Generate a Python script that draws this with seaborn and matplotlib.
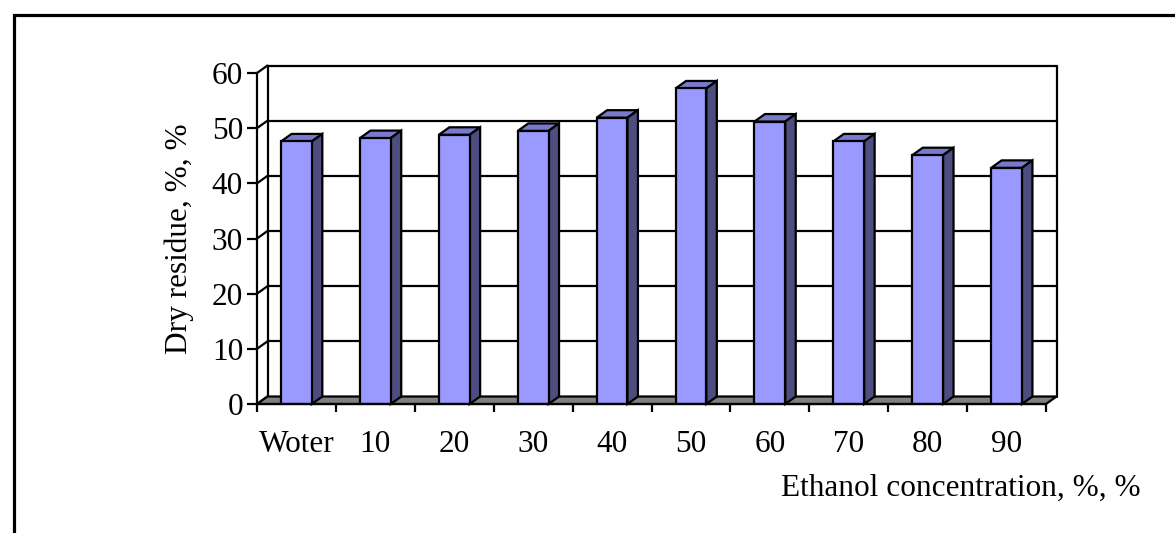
import matplotlib
matplotlib.use("Agg")
import matplotlib.pyplot as plt
from matplotlib.patches import Polygon, Rectangle
import seaborn as sns
import pandas as pd

# Dry residue yield for each extractant
categories = ["Woter", "10", "20", "30", "40", "50", "60", "70", "80", "90"]
dry_residue = [47.6, 48.2, 48.8, 49.5, 51.9, 57.2, 51.2, 47.6, 45.1, 42.8]
y_ticks = [0, 10, 20, 30, 40, 50, 60]

x_title = "Ethanol concentration, %, %"
y_title = "Dry residue, %, %"

FS = 22.5

sns.set_theme(style="white")
plt.rcParams["font.family"] = ["Liberation Serif", "DejaVu Serif"]
plt.rcParams["font.size"] = FS

W, H = 1175, 533
fig = plt.figure(figsize=(W / 100, H / 100), dpi=100)
fig.patch.set_facecolor("white")

# front plane of the pseudo-3D box (pixel geometry)
left_px, right_px, base_px, top_px = 257, 1046, 404, 73
ax = fig.add_axes([left_px / W, 1 - base_px / H,
                   (right_px - left_px) / W, (base_px - top_px) / H])

df = pd.DataFrame({"cat": categories, "val": dry_residue})
sns.barplot(data=df, x="cat", y="val", color="#9999FF", saturation=1,
            width=0.39, edgecolor="black", linewidth=1.6, ax=ax, zorder=3)

n = len(categories)
ax.set_xlim(-0.5, n - 0.5)
ax.set_ylim(0, 60)

# depth offset expressed in data units
px_per_cat = (right_px - left_px) / n
px_per_unit = (base_px - top_px) / 60
dx = 10.5 / px_per_cat
dy = 7.5 / px_per_unit

lw = 1.6
# back wall gridlines and borders
for v in y_ticks[1:]:
    ax.plot([-0.5 + dx, n - 0.5 + dx], [v + dy, v + dy], color="black",
            lw=lw, clip_on=False, zorder=1)
for xv in (-0.5 + dx, n - 0.5 + dx):
    ax.plot([xv, xv], [dy, 60 + dy], color="black", lw=lw,
            clip_on=False, zorder=1)
# side wall diagonals
for v in y_ticks:
    ax.plot([-0.5, -0.5 + dx], [v, v + dy], color="black", lw=lw,
            clip_on=False, zorder=1)

# floor
floor = Polygon([(-0.5, 0), (n - 0.5, 0), (n - 0.5 + dx, dy), (-0.5 + dx, dy)],
                closed=True, facecolor="#808080", edgecolor="black", lw=lw,
                clip_on=False, zorder=1.5)
ax.add_patch(floor)

# top and side faces of each bar
for p in list(ax.patches):
    if p is floor:
        continue
    x0, w, h = p.get_x(), p.get_width(), p.get_height()
    top = Polygon([(x0, h), (x0 + w, h), (x0 + w + dx, h + dy), (x0 + dx, h + dy)],
                  closed=True, facecolor="#7A7ACC", edgecolor="black", lw=lw,
                  clip_on=False, zorder=2.9)
    side = Polygon([(x0 + w, 0), (x0 + w + dx, dy), (x0 + w + dx, h + dy), (x0 + w, h)],
                   closed=True, facecolor="#4D4D80", edgecolor="black", lw=lw,
                   clip_on=False, zorder=2.9)
    ax.add_patch(top)
    ax.add_patch(side)

# axes styling
for s in ("top", "right"):
    ax.spines[s].set_visible(False)
for s in ("left", "bottom"):
    ax.spines[s].set_color("black")
    ax.spines[s].set_linewidth(lw)
    ax.spines[s].set_zorder(4)
ax.set_facecolor("none")
ax.grid(False)

ax.set_yticks(y_ticks)
ax.tick_params(axis="y", direction="out", length=7, width=lw, color="black",
               pad=3, labelsize=FS, labelcolor="black", left=True)
ax.set_xticks(range(n))
ax.set_xticklabels(categories)
ax.set_xticks([i - 0.5 for i in range(n + 1)], minor=True)
ax.tick_params(axis="x", which="major", length=0, pad=19, labelsize=FS,
               labelcolor="black")
ax.tick_params(axis="x", which="minor", direction="out", length=6, width=lw,
               color="black", bottom=True)

ax.set_ylabel(y_title, fontsize=FS, color="black", labelpad=13)
ax.set_xlabel(x_title, fontsize=FS, color="black")
ax.xaxis.set_label_coords((1141 - left_px) / (right_px - left_px),
                          (base_px - 488) / (base_px - top_px))
ax.xaxis.label.set_horizontalalignment("right")
ax.xaxis.label.set_verticalalignment("center")

# outer chart frame
fig.add_artist(Rectangle((13.5 / W, -0.2), 1.5, 1 - 15 / H + 0.2,
                         transform=fig.transFigure, fill=False,
                         edgecolor="black", lw=2.3))

fig.savefig("out.png", dpi=100)
